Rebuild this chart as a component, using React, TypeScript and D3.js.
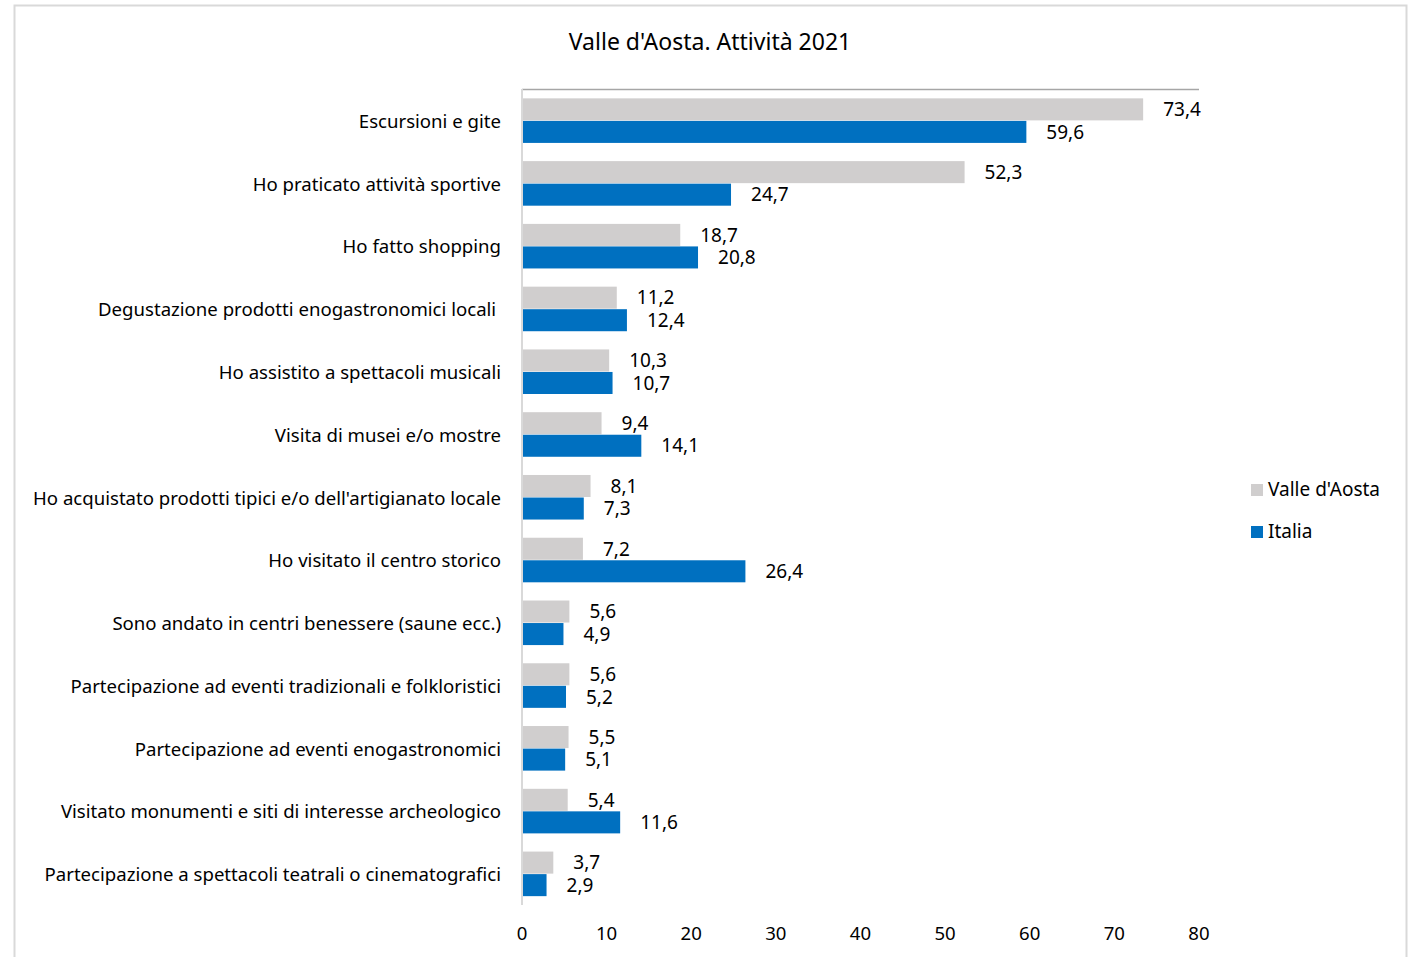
import React from "react";
import * as d3 from "d3";

const categories = [
  "Escursioni e gite",
  "Ho praticato attività sportive",
  "Ho fatto shopping",
  "Degustazione prodotti enogastronomici locali ",
  "Ho assistito a spettacoli musicali",
  "Visita di musei e/o mostre",
  "Ho acquistato prodotti tipici e/o dell'artigianato locale",
  "Ho visitato il centro storico",
  "Sono andato in centri benessere (saune ecc.)",
  "Partecipazione ad eventi tradizionali e folkloristici",
  "Partecipazione ad eventi enogastronomici",
  "Visitato monumenti e siti di interesse archeologico",
  "Partecipazione a spettacoli teatrali o cinematografici",
];
const valleValues = [73.4, 52.3, 18.7, 11.2, 10.3, 9.4, 8.1, 7.2, 5.6, 5.6, 5.5, 5.4, 3.7];
const italiaValues = [59.6, 24.7, 20.8, 12.4, 10.7, 14.1, 7.3, 26.4, 4.9, 5.2, 5.1, 11.6, 2.9];
const xTicks = [0, 10, 20, 30, 40, 50, 60, 70, 80];
const seriesNames = ["Valle d'Aosta", "Italia"];
const colors = ["#d0cece", "#0070c0"];
const title = "Valle d'Aosta. Attività 2021";

const W = 1408;
const H = 957;
const FONT = "'Noto Sans', 'Open Sans', sans-serif";

export default function App() {
  const x = d3.scaleLinear().domain([0, 80]).range([522, 1199]);
  const y = d3.scaleBand<number>().domain(d3.range(categories.length)).range([89, 905]).paddingInner(0).paddingOuter(0);
  const bw = y.bandwidth();
  const pad = bw * 0.141;
  const barH = (bw - 2 * pad) / 2;
  const fmt = (v: number) => v.toFixed(1).replace(".", ",");
  const series = [valleValues, italiaValues];

  return (
    <svg width={W} height={H} style={{ position: "absolute", left: 0, top: 0, background: "#fff" }} fontFamily={FONT}>
      <rect x={14.5} y={5.5} width={1392} height={H + 20} fill="#fff" stroke="#d9d9d9" strokeWidth={2} />
      <text x={710} y={41} textAnchor="middle" dominantBaseline="central" fontSize={23} fill="#000">{title}</text>
      {/* top line */}
      <line x1={x(0)} x2={x(80)} y1={89.5} y2={89.5} stroke="#a6a6a6" strokeWidth={1.5} />
      {/* bars */}
      {categories.map((c, i) => (
        <g key={c}>
          {series.map((vals, s) => {
            const y0 = (y(i) as number) + pad + s * barH;
            return (
              <g key={s}>
                <rect x={x(0)} y={y0 + 0.5} width={x(vals[i]) - x(0)} height={barH - 0.5} fill={colors[s]} />
                <text x={x(vals[i]) + 20} y={y0 + barH / 2} dominantBaseline="central" fontSize={19} fill="#000">
                  {fmt(vals[i])}
                </text>
              </g>
            );
          })}
          <text
            x={501}
            y={(y(i) as number) + bw / 2}
            textAnchor="end"
            dominantBaseline="central"
            fontSize={18.6}
            fill="#000"
            style={{ whiteSpace: "pre" }}
          >
            {c}
          </text>
        </g>
      ))}
      {/* left axis */}
      <line x1={x(0)} x2={x(0)} y1={89} y2={905} stroke="#d9d9d9" strokeWidth={2} />
      {/* x tick labels */}
      {xTicks.map((t) => (
        <text key={t} x={x(t)} y={932} textAnchor="middle" dominantBaseline="central" fontSize={18.6} fill="#000">
          {t}
        </text>
      ))}
      {/* legend */}
      {seriesNames.map((n, s) => (
        <g key={n}>
          <rect x={1251} y={484 + s * 42} width={12} height={12} fill={colors[s]} />
          <text x={1268} y={489 + s * 42} dominantBaseline="central" fontSize={19} fill="#000">
            {n}
          </text>
        </g>
      ))}
    </svg>
  );
}
